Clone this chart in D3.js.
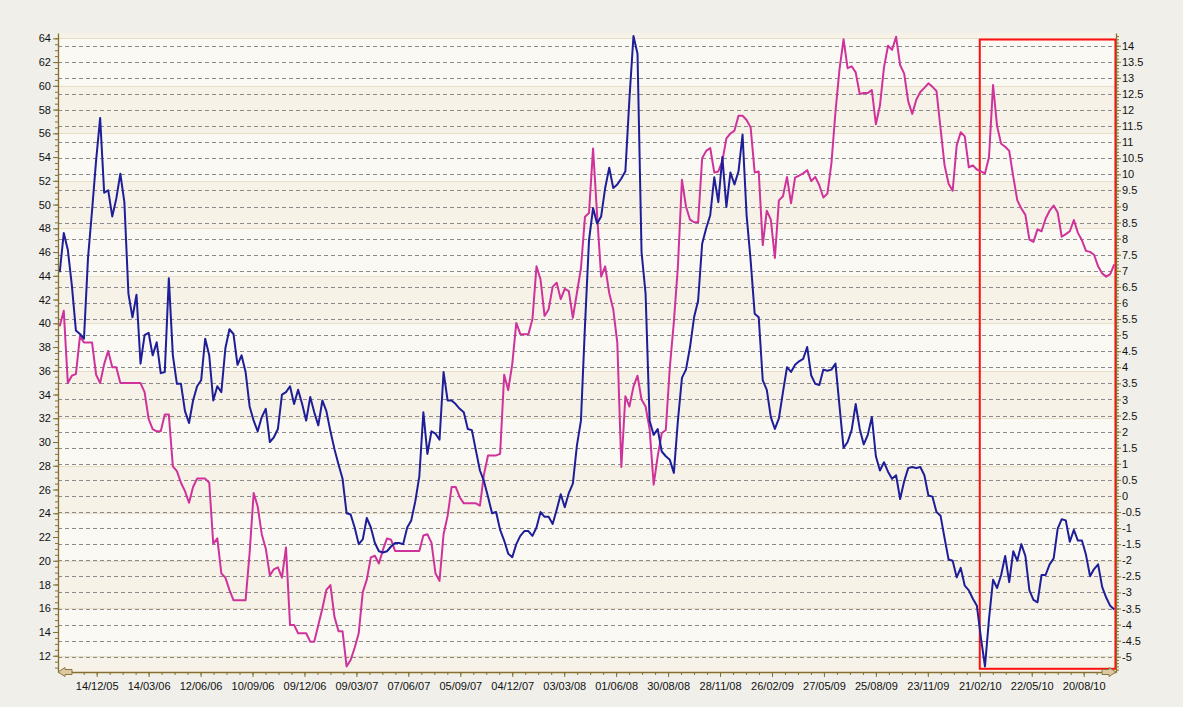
<!DOCTYPE html>
<html><head><meta charset="utf-8">
<script src="https://cdn.jsdelivr.net/npm/d3@7"></script>
<style>
body{margin:0;background:#f0efea;}
svg{display:block;font-family:"Liberation Sans",Arial,sans-serif;}
</style>
</head><body>
<svg id="chart" width="1183" height="707"></svg>
<script>
// ---------- data ----------
const firstWeek = "2005-10-11";           // date of first weekly observation
const domainStart = "2005-10-08";
const domainEnd = "2010-10-15";

const xTickLabels = ["14/12/05","14/03/06","12/06/06","10/09/06","09/12/06","09/03/07","07/06/07",
  "05/09/07","04/12/07","03/03/08","01/06/08","30/08/08","28/11/08","26/02/09","27/05/09",
  "25/08/09","23/11/09","21/02/10","22/05/10","20/08/10"];
const leftTickLabels = [12,14,16,18,20,22,24,26,28,30,32,34,36,38,40,42,44,46,48,50,52,54,56,58,60,62,64];
const rightTickLabels = [-5,-4.5,-4,-3.5,-3,-2.5,-2,-1.5,-1,-0.5,0,0.5,1,1.5,2,2.5,3,3.5,4,4.5,5,5.5,6,
  6.5,7,7.5,8,8.5,9,9.5,10,10.5,11,11.5,12,12.5,13,13.5,14];
const bandEdges = [68,64,60,56,52,48,44,40,36,32,28,24,20,16,12,8];

// blue series (left axis), one value per week
const blueValues = [
 44.3,47.6,46.2,43.2,39.4,39.1,38.7,45.5,49.5,53.7,
 57.3,51.0,51.2,49.0,50.5,52.6,50.2,42.5,40.5,42.4,
 36.6,39.0,39.2,37.3,38.4,35.8,35.9,43.8,37.3,34.9,
 34.9,32.6,31.6,33.5,34.7,35.2,38.7,37.3,33.5,34.7,
 34.2,37.9,39.5,39.1,36.5,37.3,35.9,33.0,31.8,30.9,
 32.1,32.8,30.0,30.4,31.1,34.0,34.2,34.7,33.2,34.4,
 33.2,31.8,33.8,32.5,31.4,33.5,32.6,30.9,29.4,28.1,
 26.9,24.0,23.9,22.8,21.4,21.8,23.6,22.8,21.5,20.8,
 20.7,20.8,21.2,21.5,21.5,21.4,22.8,23.4,25.0,27.1,
 32.5,29.0,30.9,30.7,30.2,35.9,33.5,33.5,33.2,32.8,
 32.5,31.1,31.0,29.3,27.6,26.7,25.4,24.0,24.1,22.6,
 21.7,20.6,20.3,21.4,22.1,22.5,22.5,22.1,22.8,24.1,
 23.7,23.7,23.1,24.3,25.6,24.5,25.7,26.5,29.7,31.8,
 39.8,47.0,49.7,48.4,49.0,51.4,53.1,51.4,51.7,52.2,
 52.8,58.9,64.2,62.7,46.0,42.5,31.8,30.6,31.1,29.2,
 28.8,28.5,27.4,31.8,35.4,36.1,38.0,40.5,41.9,46.7,
 48.0,49.1,52.3,50.2,54.0,49.8,52.7,51.7,52.8,55.9,
 49.1,45.3,40.8,40.5,35.2,34.4,32.1,31.1,32.0,34.2,
 36.3,35.9,36.5,36.8,37.0,38.0,35.6,34.9,34.8,36.1,
 36.0,36.1,36.6,33.0,29.5,30.0,31.0,33.2,31.1,29.8,
 30.6,32.1,28.8,27.6,28.3,27.5,26.9,27.2,25.2,26.7,
 27.8,27.9,27.8,27.9,27.2,25.5,25.4,24.1,23.8,21.9,
 20.1,20.0,18.6,19.4,17.9,17.5,16.8,16.2,13.5,11.1,
 15.1,18.4,17.7,18.8,20.4,18.2,20.8,20.0,21.4,20.4,
 17.5,16.7,16.5,18.8,18.8,19.7,20.2,22.7,23.5,23.4,
 21.6,22.6,21.7,21.7,20.5,18.7,19.3,19.7,17.8,16.9,
 16.2,15.9];

// magenta series (right axis), one value per week
const magentaValues = [
 5.28,5.76,3.51,3.74,3.79,4.96,4.77,4.77,4.77,3.77,
 3.51,4.1,4.51,4.0,4.0,3.51,3.51,3.51,3.51,3.51,
 3.51,3.23,2.40,2.08,2.01,2.01,2.53,2.53,0.92,0.77,
 0.41,0.15,-0.21,0.28,0.54,0.54,0.54,0.41,-1.49,-1.32,
 -2.41,-2.54,-2.92,-3.24,-3.24,-3.24,-3.24,-1.77,0.09,-0.33,
 -1.19,-1.64,-2.47,-2.28,-2.22,-2.54,-1.6,-4.01,-4.01,-4.27,
 -4.27,-4.27,-4.53,-4.53,-4.01,-3.5,-2.92,-2.77,-3.76,-4.21,
 -4.21,-5.3,-5.1,-4.72,-4.27,-2.99,-2.6,-1.91,-1.86,-2.1,
 -1.67,-1.32,-1.36,-1.71,-1.71,-1.71,-1.71,-1.71,-1.71,-1.71,
 -1.23,-1.19,-1.45,-2.41,-2.64,-1.19,-0.62,0.28,0.28,-0.04,
 -0.23,-0.23,-0.23,-0.23,-0.3,0.67,1.26,1.26,1.26,1.31,
 3.77,3.29,4.1,5.38,5.03,5.03,5.03,5.5,7.14,6.73,
 5.6,5.8,6.5,6.63,6.12,6.44,6.37,5.54,6.31,7.08,
 8.68,8.8,10.8,8.74,6.82,7.14,6.31,5.8,4.77,0.9,
 3.1,2.78,3.4,3.74,3.0,2.78,2.08,0.35,1.24,1.95,
 2.05,4.0,5.41,7.14,9.83,9.0,8.59,8.51,8.51,10.5,
 10.73,10.82,10.06,10.09,10.41,11.12,11.27,11.36,11.82,11.82,
 11.69,11.46,10.06,10.09,7.8,8.87,8.59,7.4,9.19,9.32,
 9.92,9.1,9.9,9.96,10.03,10.13,9.79,9.92,9.66,9.28,
 9.4,10.35,11.95,13.27,14.2,13.3,13.36,13.17,12.5,12.53,
 12.53,12.62,11.56,12.14,13.32,14.0,13.87,14.28,13.4,13.13,
 12.27,11.88,12.32,12.56,12.69,12.83,12.72,12.59,11.44,10.28,
 9.71,9.49,10.9,11.31,11.18,10.22,10.28,10.15,10.09,10.03,
 10.54,12.78,11.5,10.95,10.86,10.73,9.93,9.19,8.94,8.74,
 7.97,7.9,8.29,8.23,8.62,8.87,9.03,8.81,8.06,8.14,
 8.23,8.58,8.18,7.95,7.62,7.59,7.5,7.14,6.92,6.82,
 6.9,7.2];

const highlightFrom = "2010-02-21", highlightTo = "2010-10-14";
const highlightLeftRange = [10.9, 63.9];

// ---------- drawing ----------
const parseISO = d3.timeParse("%Y-%m-%d");
const parseLbl = d3.timeParse("%d/%m/%y");
const fmtLbl = d3.timeFormat("%d/%m/%y");
const svg = d3.select("#chart");
const L = 58, R = 1116, T = 33, B = 672;

const x = d3.scaleTime().domain([parseISO(domainStart), parseISO(domainEnd)]).range([L, R]);
const yL = d3.scaleLinear().domain([10.63, 64.45]).range([B, T]);
const yR = d3.scaleLinear().domain([-5.474, 14.395]).range([B, T]);

const t0 = parseISO(firstWeek);
const weekDates = blueValues.map((_, i) => d3.timeDay.offset(t0, 7 * i));

// plot background
const defs = svg.append("defs");
defs.append("clipPath").attr("id", "clip").append("rect")
  .attr("x", L).attr("y", T).attr("width", R - L).attr("height", B - T);
const plot = svg.append("g").attr("clip-path", "url(#clip)");
plot.append("rect").attr("x", L).attr("y", T).attr("width", R - L).attr("height", B - T).attr("fill", "#fbf9f4");
for (let i = 0; i < bandEdges.length - 1; i++) {
  plot.append("rect").attr("x", L).attr("width", R - L)
    .attr("y", yL(bandEdges[i])).attr("height", yL(bandEdges[i + 1]) - yL(bandEdges[i]))
    .attr("fill", i % 2 === 0 ? "#f7f2e7" : "#fbf9f4");
}
plot.selectAll("line.band").data(bandEdges).join("line").attr("class", "band")
  .attr("x1", L).attr("x2", R).attr("y1", d => Math.round(yL(d)) + 0.5).attr("y2", d => Math.round(yL(d)) + 0.5)
  .attr("stroke", "#e8dfc9").attr("stroke-width", 1);
plot.selectAll("line.grid").data(rightTickLabels).join("line").attr("class", "grid")
  .attr("x1", L).attr("x2", R).attr("y1", d => Math.round(yR(d)) + 0.5).attr("y2", d => Math.round(yR(d)) + 0.5)
  .attr("stroke", "#8a8a8a").attr("stroke-width", 1).attr("stroke-dasharray", "4,3");

// highlight rectangle
plot.append("rect")
  .attr("x", x(parseISO(highlightFrom))).attr("y", yL(highlightLeftRange[1]))
  .attr("width", x(parseISO(highlightTo)) - x(parseISO(highlightFrom)))
  .attr("height", yL(highlightLeftRange[0]) - yL(highlightLeftRange[1]))
  .attr("fill", "none").attr("stroke", "#ff1010").attr("stroke-width", 2);

// lines
const magLine = d3.line().x((d, i) => x(weekDates[i])).y(d => yR(d));
const blueLine = d3.line().x((d, i) => x(weekDates[i])).y(d => yL(d));
plot.append("path").datum(magentaValues).attr("d", magLine)
  .attr("fill", "none").attr("stroke", "#cf339b").attr("stroke-width", 2).attr("stroke-linejoin", "round");
plot.append("path").datum(blueValues).attr("d", blueLine)
  .attr("fill", "none").attr("stroke", "#1e1e98").attr("stroke-width", 2).attr("stroke-linejoin", "round");

// axes
const axisColor = "#85702e";
function styleAxis(g) {
  g.select(".domain").attr("stroke", axisColor).attr("stroke-width", 1.3);
  g.selectAll(".tick line").attr("stroke", axisColor);
  g.selectAll(".tick text").attr("fill", "#111").style("font-size", "11px")
    .style("font-family", '"Liberation Sans",Arial,sans-serif');
}
const plain = d => String(d);
// minor ticks
const leftMinor = d3.range(21, 130).map(k => k / 2);
const rightMinor = d3.range(-54, 144).map(k => k / 10);
svg.append("g").attr("transform", `translate(${L},0)`)
  .call(d3.axisLeft(yL).tickValues(leftMinor.filter(v => v >= 10.7 && v <= 64.4)).tickSize(3).tickFormat(""))
  .call(styleAxis).select(".domain").remove();
svg.append("g").attr("transform", `translate(${R},0)`)
  .call(d3.axisRight(yR).tickValues(rightMinor.filter(v => v >= -5.45 && v <= 14.35)).tickSize(3).tickFormat(""))
  .call(styleAxis).select(".domain").remove();

const majorDates = xTickLabels.map(parseLbl);
const xMinor = [];
for (let k = -2; k < (majorDates.length) * 4 + 3; k++) {
  const d = d3.timeHour.offset(majorDates[0], Math.round(22.5 * 24 * k));
  if (d > x.domain()[0] && d < x.domain()[1]) xMinor.push(d);
}
svg.append("g").attr("transform", `translate(0,${B})`)
  .call(d3.axisBottom(x).tickValues(xMinor).tickSize(3).tickFormat(""))
  .call(styleAxis).select(".domain").remove();

svg.append("g").attr("transform", `translate(${L},0)`)
  .call(d3.axisLeft(yL).tickValues(leftTickLabels).tickFormat(plain).tickSize(5).tickPadding(2).tickSizeOuter(0))
  .call(styleAxis);
svg.append("g").attr("transform", `translate(${R},0)`)
  .call(d3.axisRight(yR).tickValues(rightTickLabels).tickFormat(plain).tickSize(5).tickPadding(1).tickSizeOuter(0))
  .call(styleAxis);
svg.append("g").attr("transform", `translate(0,${B})`)
  .call(d3.axisBottom(x).tickValues(majorDates).tickFormat(fmtLbl).tickSize(5).tickPadding(5).tickSizeOuter(0))
  .call(styleAxis);

// scroll arrows
const arrowPath = "M0,0 L7,-4.5 L7,-2.5 L14,-2.5 L14,2.5 L7,2.5 L7,4.5 Z";
svg.append("path").attr("d", arrowPath).attr("transform", `translate(${L},${B})`)
  .attr("fill", "#dcc9a2").attr("stroke", "#8a7640").attr("stroke-width", 1);
svg.append("path").attr("d", arrowPath).attr("transform", `translate(${R},${B}) scale(-1,1)`)
  .attr("fill", "#dcc9a2").attr("stroke", "#8a7640").attr("stroke-width", 1);
</script>
</body></html>
